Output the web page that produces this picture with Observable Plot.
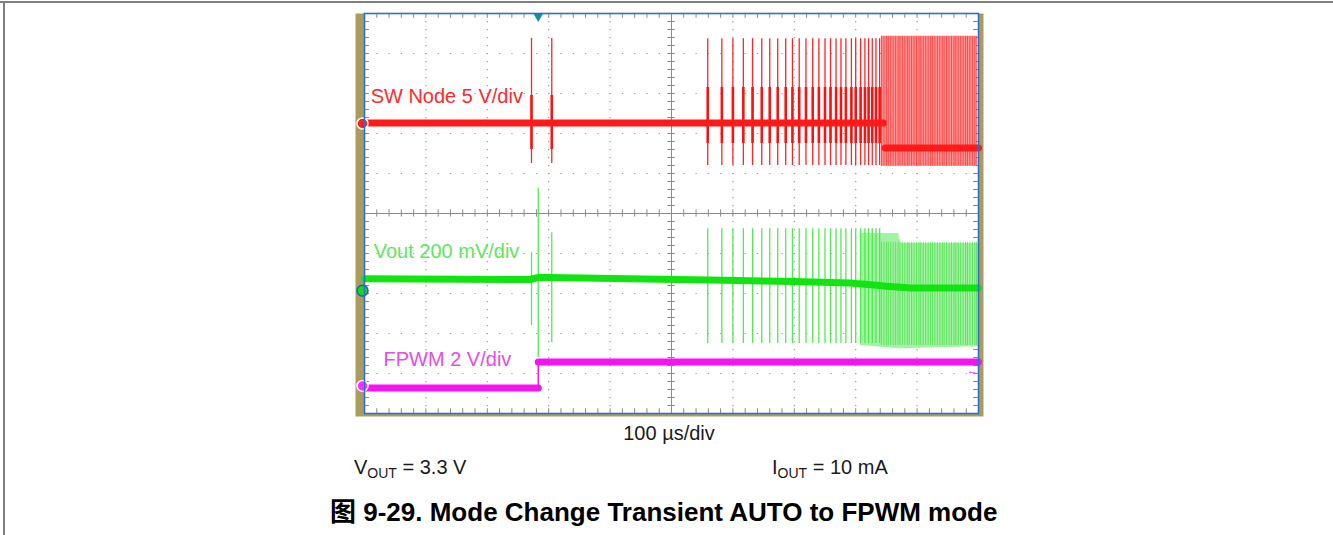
<!DOCTYPE html>
<html><head><meta charset="utf-8">
<script src="https://cdn.jsdelivr.net/npm/d3@7"></script>
<script src="https://cdn.jsdelivr.net/npm/@observablehq/plot@0.6"></script>
<style>
body{margin:0;background:#fff;font-family:Arial,"Liberation Sans","Noto Sans CJK SC",sans-serif;}
#page{position:relative;width:1333px;height:535px;overflow:hidden;background:#fff}
.bt{position:absolute;left:0;top:1px;width:1333px;height:2px;background:#7f7f7f}
.bl{position:absolute;left:3px;top:1px;width:1.5px;height:534px;background:#7f7f7f}
#chart{position:absolute;left:0;top:0}
.cap{position:absolute;font-size:20px;line-height:20px;color:#1a1a1a;white-space:nowrap}
.cap sub{font-size:14px;vertical-align:-4px;line-height:0}
.title{position:absolute;font-size:26px;line-height:26px;font-weight:bold;color:#000;white-space:nowrap}
</style></head>
<body>
<div id="page">
  <div class="bt"></div><div class="bl"></div>
  <div id="chart"></div>
  <div class="cap" id="tdiv" style="left:0;width:1338px;text-align:center;top:423px"></div>
  <div class="cap" id="vout" style="left:354px;top:457px"></div>
  <div class="cap" id="iout" style="left:772px;top:457px"></div>
  <div class="title" id="title" style="left:330px;top:499px"></div>
</div>
<script>
// ---- axis settings (time in µs, 100 µs/div; vertical in screen divisions) ----
const timeDomain = [0, 1000];
const divDomain = [-5, 5];

// ---- texts ----
const timeScaleText = "100 µs/div";
const voutText = ["V", "OUT", " = 3.3 V"];
const ioutText = ["I", "OUT", " = 10 mA"];
const titleText = "图 9-29. Mode Change Transient AUTO to FPWM mode";
const labelText = ["SW Node 5 V/div", "Vout 200 mV/div", "FPWM 2 V/div"];
const labelT = [10, 15, 31];
const labelV = [2.93, -0.95, -3.66];
const labelColor = ["#ff2a2a", "#5fe65f", "#e64ce6"];

// ---- SW node (red) ----
const swBaseT = [0, 845, 848, 1000];
const swBaseV = [2.26, 2.26, 1.64, 1.64];
const swBaseSeg = ["auto", "auto", "fpwm", "fpwm"];
const swSpikeT = [272, 305];
const swSpikeTop = [4.38, 4.38];
const swSpikeBot = [1.25, 1.25];
const burstT = [559, 582, 600, 617, 632, 647, 660, 673, 686, 697, 708, 719, 730, 740,
                750, 759, 768, 776, 784, 793, 800, 808, 815, 821, 827, 833, 839];
const swPulseTop = 4.37;
const swPulseBot = 1.2;
const denseT = [842, 846, 850, 853, 857, 861, 865, 869, 872, 876, 880, 884, 887, 891,
                895, 899, 903, 906, 910, 914, 918, 922, 925, 929, 933, 937, 941, 944,
                948, 952, 956, 960, 963, 967, 971, 975, 979, 982, 986, 990, 994, 997];
const swDenseTop = 4.43;
const swDenseBot = 1.18;

// ---- Vout (green) ----
const voutBaseT = [0, 270, 283, 300, 560, 700, 790, 830, 850, 890, 1000];
const voutBaseV = [-1.63, -1.65, -1.6, -1.6, -1.66, -1.7, -1.74, -1.79, -1.82, -1.86, -1.86];
const vSpikeT = [272, 283, 305];
const vSpikeTop = [-0.98, 0.63, -0.48];
const vSpikeBot = [-2.8, -3.6, -3.23];
const vPulseTop = -0.38;
const vPulseBot = -3.25;
const vDenseT = [808, 870, 874, 1000];
const vDenseTop = [-0.5, -0.5, -0.75, -0.75];
const vDenseBot = [-3.3, -3.38, -3.38, -3.33];

// ---- FPWM pin (magenta) ----
const fpwmT = [0, 283, 283, 1000];
const fpwmV = [-4.36, -4.36, -3.71, -3.71];
const fpwmSeg = ["low", "low", "high", "high"];
const fpwmStepT = 283;

// ---- channel ground markers ----
const markerV = [2.25, -1.93, -4.31];
const markerFill = ["#ff1e1e", "#10dd10", "#ff30ff"];
const markerStroke = ["#ffffff", "#2a55d0", "#ffffff"];
const triggerT = 283;

// ---- build tables ----
const swBase = swBaseT.map((t, i) => ({t, v: swBaseV[i], s: swBaseSeg[i]}));
const swSpikes = swSpikeT.map((t, i) => ({t, top: swSpikeTop[i], bot: swSpikeBot[i]}));
const vBase = voutBaseT.map((t, i) => ({t, v: voutBaseV[i]}));
const vSpikes = vSpikeT.map((t, i) => ({t, top: vSpikeTop[i], bot: vSpikeBot[i]}));
const vDense = vDenseT.map((t, i) => ({t, top: vDenseTop[i], bot: vDenseBot[i]}));
const fpwm = fpwmT.map((t, i) => ({t, v: fpwmV[i], s: fpwmSeg[i]}));
const labels = labelText.map((text, i) => ({text, t: labelT[i], v: labelV[i], c: labelColor[i]}));
const markers = markerV.map((v, i) => ({v, f: markerFill[i], s: markerStroke[i]}));

// grid helpers (scope graticule: 10 x 10 divisions, 5 minor ticks per division)
const majorT = d3.range(100, 1000, 100).filter(d => d !== 500);
const majorV = d3.range(-4, 5, 1).filter(d => d !== 0);
const minorT = d3.range(0, 1000.1, 20);
const minorV = d3.range(-5, 5.01, 0.2);

const grid = "#9a9a9a";
const chart = Plot.plot({
  width: 1333, height: 420,
  marginLeft: 364, marginRight: 355, marginTop: 13, marginBottom: 7,
  x: {domain: timeDomain, axis: null},
  y: {domain: divDomain, axis: null},
  style: {background: "transparent", overflow: "visible"},
  marks: [
    Plot.frame({fill: "#ab9c5e", stroke: "none", insetLeft: -9, insetRight: -5, insetBottom: -3}),
    Plot.frame({fill: "#ffffff", stroke: "none"}),
    // dotted graticule
    Plot.ruleX(majorT, {x: d => d, stroke: grid, strokeWidth: 1.2, strokeDasharray: "1.2,6.8"}),
    Plot.ruleY(majorV, {y: d => d, stroke: grid, strokeWidth: 1.2, strokeDasharray: "1.2,11.08"}),
    // center cross
    Plot.ruleX([500], {x: d => d, stroke: "#8a8a8a", strokeWidth: 1}),
    Plot.ruleY([0], {y: d => d, stroke: "#8a8a8a", strokeWidth: 1}),
    Plot.ruleX(minorT, {x: d => d, y1: -0.09, y2: 0.09, stroke: "#8a8a8a"}),
    Plot.ruleY(minorV, {y: d => d, x1: 494, x2: 506, stroke: "#8a8a8a"}),
    Plot.ruleX(minorT, {x: d => d, y1: 4.88, y2: 5, stroke: "#8a8a8a"}),
    Plot.ruleX(minorT, {x: d => d, y1: -5, y2: -4.88, stroke: "#8a8a8a"}),
    Plot.ruleY(minorV, {y: d => d, x1: 0, x2: 8, stroke: "#8a8a8a"}),
    Plot.ruleY(minorV, {y: d => d, x1: 992, x2: 1000, stroke: "#8a8a8a"}),

    // ---- FPWM-mode dense switching (aliased) ----
    Plot.rectY([0], {x1: denseT[0], x2: denseT[denseT.length - 1], y1: swDenseBot, y2: swDenseTop, fill: "#ff9494"}),
    Plot.ruleX(denseT, {x: d => d, y1: swDenseBot, y2: swDenseTop, stroke: "#ff3030", strokeWidth: 1, strokeOpacity: 0.75}),
    Plot.areaY(vDense, {x: "t", y1: "bot", y2: "top", fill: "#a4f2a4"}),
    Plot.ruleX(denseT, {x: d => d, y1: -3.3, y2: -0.72, stroke: "#40e040", strokeWidth: 1, strokeOpacity: 0.7}),

    // ---- SW node pulses ----
    Plot.ruleX(burstT, {x: d => d, y1: swPulseBot, y2: swPulseTop, stroke: "#ff2424", strokeWidth: 1.3}),
    Plot.ruleX(burstT, {x: d => d, y1: 1.75, y2: 3.15, stroke: "#ff1010", strokeWidth: 2.6}),
    Plot.ruleX(swSpikes, {x: "t", y1: "bot", y2: "top", stroke: "#ff2424", strokeWidth: 1.3}),
    Plot.ruleX(swSpikes, {x: "t", y1: 1.6, y2: 2.95, stroke: "#ff1010", strokeWidth: 2.6}),

    // ---- Vout pulses ----
    Plot.ruleX(burstT, {x: d => d, y1: vPulseBot, y2: vPulseTop, stroke: "#52ea52", strokeWidth: 1.3}),
    Plot.ruleX(vSpikes, {x: "t", y1: "bot", y2: "top", stroke: "#52ea52", strokeWidth: 1.3}),

    // ---- baselines ----
    Plot.line(swBase, {x: "t", y: "v", z: "s", stroke: "#ff1a1a", strokeWidth: 7}),
    Plot.line(vBase, {x: "t", y: "v", stroke: "#12e412", strokeWidth: 7}),
    Plot.line(fpwm, {x: "t", y: "v", z: "s", stroke: "#f514f0", strokeWidth: 7}),
    Plot.ruleX([fpwmStepT], {x: d => d, y1: -4.36, y2: -3.71, stroke: "#f514f0", strokeWidth: 1.5}),

    // ---- channel labels ----
    Plot.text(labels, {x: "t", y: "v", text: "text", fill: "c", textAnchor: "start",
      fontSize: 20, fontFamily: "Arial, 'Liberation Sans', sans-serif"}),

    // ---- markers ----
    Plot.dot(markers, {x: 0, y: "v", r: 5.5, fill: "f", stroke: "s", strokeWidth: 1.5, dx: -2}),
    Plot.dot([triggerT], {x: d => d, y: 5, symbol: "triangle", rotate: 180, r: 3.5, fill: "#1a8c99", dy: 3}),
    Plot.text(["←"], {x: 990, y: -3.92, text: d => d, fill: "#f514f0", fontSize: 11}),

    Plot.frame({stroke: "#2d6ed6", strokeWidth: 1.6})
  ]
});
document.getElementById("chart").appendChild(chart);

document.getElementById("tdiv").textContent = timeScaleText;
document.getElementById("vout").innerHTML = voutText[0] + "<sub>" + voutText[1] + "</sub>" + voutText[2];
document.getElementById("iout").innerHTML = ioutText[0] + "<sub>" + ioutText[1] + "</sub>" + ioutText[2];
document.getElementById("title").textContent = titleText;
</script>
</body></html>
